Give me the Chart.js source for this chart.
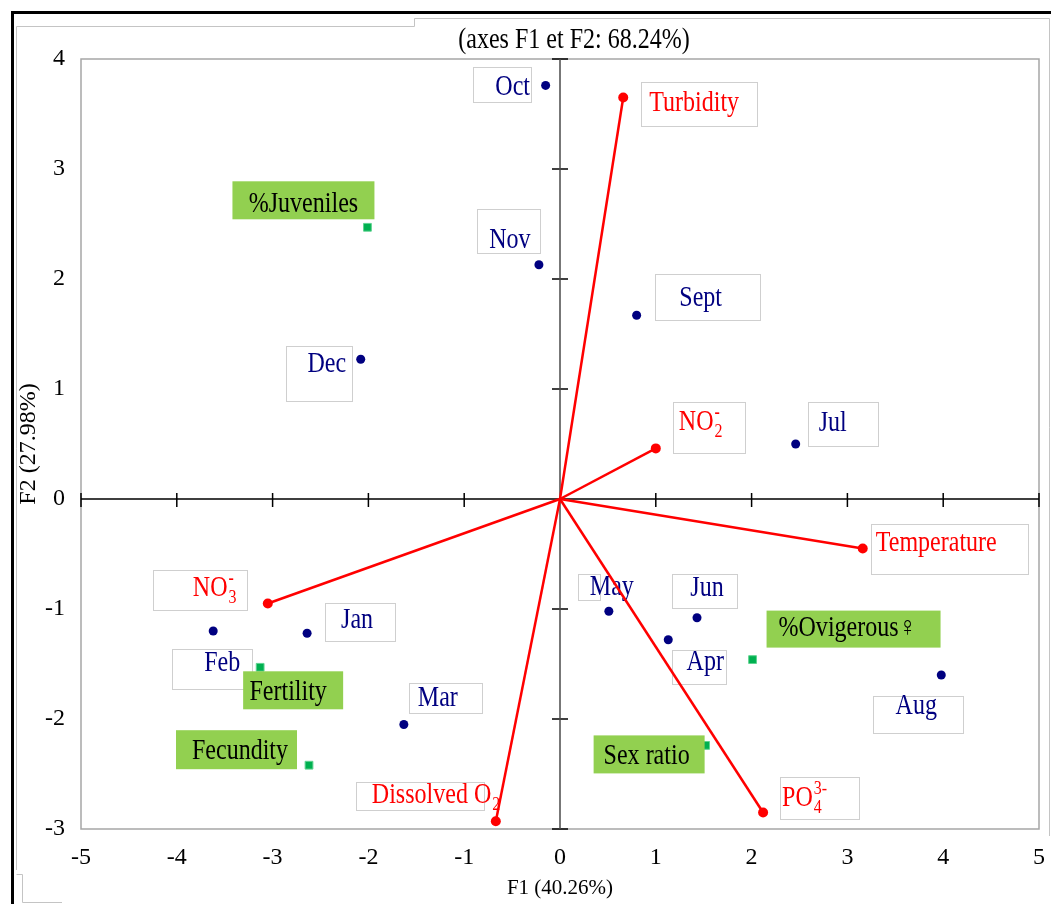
<!DOCTYPE html>
<html>
<head>
<meta charset="utf-8">
<script src="https://cdn.jsdelivr.net/npm/chart.js@4.4.1/dist/chart.umd.min.js"></script>
<style>
  body { margin: 0; background: #fff; }
  #wrap { width: 1051px; height: 904px; }
</style>
</head>
<body>
<div id="wrap"><canvas id="biplot" width="1051" height="904"></canvas></div>
<script>
// Observations (months) - F1 / F2 scores
const months = ['Oct', 'Nov', 'Sept', 'Dec', 'Jul', 'May', 'Jun', 'Apr', 'Aug', 'Jan', 'Feb', 'Mar'];
const monthF1 = [-0.15, -0.22, 0.80, -2.08, 2.46, 0.51, 1.43, 1.13, 3.98, -2.64, -3.62, -1.63];
const monthF2 = [3.76, 2.13, 1.67, 1.27, 0.50, -1.02, -1.08, -1.28, -1.60, -1.22, -1.20, -2.05];

// Active variables (vectors from the origin)
const variables = ['Turbidity', 'NO2-', 'Temperature', 'NO3-', 'Dissolved O2', 'PO4 3-'];
const varText = [
  { t: 'Turbidity' },
  { t: 'NO', sub: '2', sup: '-' },
  { t: 'Temperature' },
  { t: 'NO', sub: '3', sup: '-' },
  { t: 'Dissolved O', sub: '2' },
  { t: 'PO', sub: '4', sup: '3-' }
];
const varF1 = [0.66, 1.00, 3.16, -3.05, -0.67, 2.12];
const varF2 = [3.65, 0.46, -0.45, -0.95, -2.93, -2.85];

// Supplementary variables
const suppVars = ['%Juveniles', 'Fertility', 'Fecundity', '%Ovigerous\u2640', 'Sex ratio'];
const suppF1 = [-2.01, -3.13, -2.62, 2.01, 1.52];
const suppF2 = [2.47, -1.53, -2.42, -1.46, -2.24];

// axis ticks
const f1Ticks = [-5, -4, -3, -2, -1, 0, 1, 2, 3, 4, 5];
const f2Ticks = [-3, -2, -1, 0, 1, 2, 3, 4];

const SERIF = '"Liberation Serif", "Times New Roman", serif';

// label boxes, pixel offsets from the marker: box [dx, dy, w, h], text [dx, dy]
const monthLayout = [
  { box: [-73, -18, 58, 35], text: [-33, 2] },
  { box: [-62, -56, 63, 44], text: [-29, -24] },
  { box: [18, -41, 105, 46], text: [64, -17] },
  { box: [-75, -13, 66, 55], text: [-34, 5] },
  { box: [12, -42, 70, 44], text: [37, -21] },
  { box: [-31, -37, 22, 26], text: [3, -24] },
  { box: [-25, -44, 65, 34], text: [10, -29] },
  { box: [4, 10, 54, 34], text: [37, 23] },
  { box: [-68, 21, 90, 37], text: [-25, 31] },
  { box: [18, -30, 70, 38], text: [50, -13] },
  { box: [-41, 18, 80, 40], text: [9, 32] },
  { box: [5, -42, 73, 30], text: [34, -26] }
];
const varLayout = [
  { box: [18, -15, 116, 44], text: [26, 6] },
  { box: [17, -46, 72, 51], text: [23, -26] },
  { box: [8, -25, 157, 50], text: [13, -5] },
  { box: [-115, -34, 94, 40], text: [-75, -15] },
  { box: [-140, -39, 128, 28], text: [-124, -26] },
  { box: [17, -36, 79, 42], text: [19, -14] }
];
const suppLayout = [
  { box: [-135, -46, 142, 38], text: [-64, -23] },
  { box: [-17, 4, 100, 38], text: [28, 25] },
  { box: [-133, -35, 121, 39], text: [-69, -14] },
  { box: [14, -49, 174, 37], text: [95, -31] },
  { box: [-112, -10, 111, 38], text: [-59, 11] }
];

// text drawn slightly condensed, like the original picture
function squashText(ctx, str, x, y, size, align, color, weight) {
  ctx.save();
  ctx.font = (weight || 'normal') + ' ' + size + 'px ' + SERIF;
  ctx.fillStyle = color;
  ctx.textAlign = align;
  ctx.textBaseline = 'middle';
  ctx.translate(x, y);
  ctx.scale(0.84, 1);
  ctx.fillText(str, 0, 0);
  const w = ctx.measureText(str).width * 0.84;
  ctx.restore();
  return w;
}

function boxAt(ctx, px, py, b, fill, stroke) {
  ctx.save();
  ctx.fillStyle = fill;
  ctx.fillRect(px + b[0], py + b[1], b[2], b[3]);
  if (stroke) {
    ctx.strokeStyle = stroke;
    ctx.lineWidth = 1;
    ctx.strokeRect(Math.round(px + b[0]) + 0.5, Math.round(py + b[1]) + 0.5, b[2], b[3]);
  }
  ctx.restore();
}

const biplotDecor = {
  id: 'biplotDecor',
  beforeDraw(chart) {
    const ctx = chart.ctx;
    const a = chart.chartArea;
    ctx.save();
    ctx.fillStyle = '#fff';
    ctx.fillRect(0, 0, chart.width, chart.height);
    // outer frames
    ctx.strokeStyle = '#000';
    ctx.lineWidth = 3;
    ctx.beginPath();
    ctx.moveTo(12.5, chart.height);
    ctx.lineTo(12.5, 12.5);
    ctx.lineTo(chart.width, 12.5);
    ctx.stroke();
    ctx.strokeStyle = '#c4c4c4';
    ctx.lineWidth = 1;
    ctx.beginPath();
    ctx.moveTo(16.5, 870);
    ctx.lineTo(16.5, 26.5);
    ctx.lineTo(414.5, 26.5);
    ctx.lineTo(414.5, 18.5);
    ctx.lineTo(1049.5, 18.5);
    ctx.lineTo(1049.5, 836);
    ctx.stroke();
    ctx.beginPath();
    ctx.moveTo(16.5, 874.5);
    ctx.lineTo(22.5, 874.5);
    ctx.lineTo(22.5, 902.5);
    ctx.lineTo(62, 902.5);
    ctx.stroke();
    // chart title
    squashText(ctx, '(axes F1 et F2: 68.24%)', 574, 40, 28.6, 'center', '#000');
    // plot frame
    ctx.strokeStyle = '#a6a6a6';
    ctx.lineWidth = 1.5;
    ctx.strokeRect(a.left, a.top, a.right - a.left, a.bottom - a.top);
    ctx.restore();
  },
  beforeDatasetsDraw(chart) {
    const ctx = chart.ctx;
    const a = chart.chartArea;
    const xs = chart.scales.x, ys = chart.scales.y;
    const x0 = xs.getPixelForValue(0), y0 = ys.getPixelForValue(0);
    ctx.save();
    // axes through the origin
    ctx.lineWidth = 1.5;
    ctx.strokeStyle = '#000';
    ctx.beginPath();
    ctx.moveTo(a.left, y0);
    ctx.lineTo(a.right, y0);
    xs.ticks.forEach(t => {
      if (t.value === 0) return;
      const px = xs.getPixelForValue(t.value);
      ctx.moveTo(px, y0 - 6);
      ctx.lineTo(px, y0 + 8);
    });
    ys.ticks.forEach(t => {
      if (t.value === 0) return;
      const py = ys.getPixelForValue(t.value);
      ctx.moveTo(x0 - 8, py);
      ctx.lineTo(x0 + 8, py);
    });
    ctx.stroke();
    ctx.strokeStyle = '#4a4a4a';
    ctx.beginPath();
    ctx.moveTo(x0, a.top);
    ctx.lineTo(x0, a.bottom);
    ctx.stroke();
    ctx.restore();

    // month and variable labels (under the vectors)
    months.forEach((m, i) => {
      const px = xs.getPixelForValue(monthF1[i]), py = ys.getPixelForValue(monthF2[i]);
      const L = monthLayout[i];
      boxAt(ctx, px, py, L.box, '#fff', '#cfcfcf');
      squashText(ctx, m, px + L.text[0], py + L.text[1], 28.6, 'center', '#000080');
    });
    variables.forEach((v, i) => {
      const px = xs.getPixelForValue(varF1[i]), py = ys.getPixelForValue(varF2[i]);
      const L = varLayout[i];
      const T = varText[i];
      boxAt(ctx, px, py, L.box, '#fff', '#cfcfcf');
      const tx = px + L.text[0], ty = py + L.text[1];
      const w = squashText(ctx, T.t, tx, ty, 28.6, 'left', '#ff0000');
      if (T.sub) squashText(ctx, T.sub, tx + w + 1, ty + 10, 19, 'left', '#ff0000');
      if (T.sup) squashText(ctx, T.sup, tx + w + 1, ty - 9, 19, 'left', '#ff0000', T.sup === '-' ? 'bold' : 'normal');
    });
  },
  afterDatasetsDraw(chart) {
    const ctx = chart.ctx;
    const xs = chart.scales.x, ys = chart.scales.y;
    suppVars.forEach((s, i) => {
      const px = xs.getPixelForValue(suppF1[i]), py = ys.getPixelForValue(suppF2[i]);
      const L = suppLayout[i];
      boxAt(ctx, px, py, L.box, '#92d050', null);
      squashText(ctx, s, px + L.text[0], py + L.text[1], 28.6, 'center', '#000');
    });
  }
};

const datasets = [];
datasets.push({
  label: 'Observations',
  data: months.map((m, i) => ({ x: monthF1[i], y: monthF2[i] })),
  pointRadius: 4.5,
  pointBackgroundColor: '#000080',
  pointBorderColor: '#000080',
  borderWidth: 0,
  showLine: false
});
variables.forEach((v, i) => {
  datasets.push({
    label: v,
    data: [{ x: 0, y: 0 }, { x: varF1[i], y: varF2[i] }],
    showLine: true,
    borderColor: '#ff0000',
    borderWidth: 2.5,
    pointRadius: [0, 5],
    pointBackgroundColor: '#ff0000',
    pointBorderColor: '#ff0000',
    pointBorderWidth: 0
  });
});
datasets.push({
  label: 'Supplementary',
  data: suppVars.map((s, i) => ({ x: suppF1[i], y: suppF2[i] })),
  pointStyle: 'rect',
  pointRadius: 5.5,
  pointBackgroundColor: '#00b050',
  pointBorderColor: '#5fd390',
  pointBorderWidth: 1,
  showLine: false
});

new Chart(document.getElementById('biplot').getContext('2d'), {
  type: 'scatter',
  data: { datasets: datasets },
  options: {
    responsive: false,
    animation: false,
    devicePixelRatio: 1,
    layout: { padding: { top: 59, right: 12, bottom: 0, left: 0 } },
    plugins: {
      legend: { display: false },
      tooltip: { enabled: false }
    },
    scales: {
      x: {
        type: 'linear',
        min: f1Ticks[0],
        max: f1Ticks[f1Ticks.length - 1],
        grid: { display: false },
        border: { display: false },
        ticks: {
          stepSize: 1,
          autoSkip: false,
          padding: 6,
          color: '#000',
          font: { family: SERIF, size: 24 }
        },
        title: {
          display: true,
          text: 'F1 (40.26%)',
          color: '#000',
          font: { family: SERIF, size: 21 },
          padding: { top: 0, bottom: 3 }
        },
        afterFit(scale) {
          scale.height = 75;
          scale.paddingLeft = 0;
          scale.paddingRight = 0;
        }
      },
      y: {
        type: 'linear',
        min: f2Ticks[0],
        max: f2Ticks[f2Ticks.length - 1],
        grid: { display: false },
        border: { display: false },
        ticks: {
          stepSize: 1,
          autoSkip: false,
          padding: 8,
          color: '#000',
          font: { family: SERIF, size: 24 }
        },
        title: {
          display: true,
          text: 'F2 (27.98%)',
          color: '#000',
          font: { family: SERIF, size: 24 },
          padding: { top: 14, bottom: 0 }
        },
        afterFit(scale) {
          scale.width = 81;
          scale.paddingTop = 0;
          scale.paddingBottom = 0;
        }
      }
    }
  },
  plugins: [biplotDecor]
});
</script>
</body>
</html>
